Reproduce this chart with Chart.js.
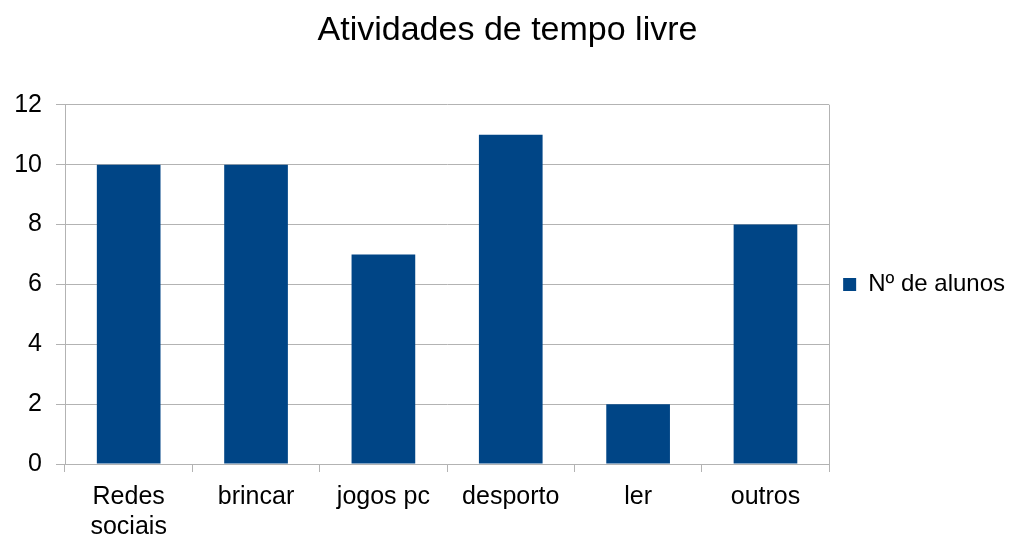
<!DOCTYPE html>
<html>
<head>
<meta charset="utf-8">
<script src="https://cdn.jsdelivr.net/npm/chart.js@4/dist/chart.umd.min.js"></script>
<style>
  html, body { margin: 0; padding: 0; background: #fff; }
  #wrap { width: 1022px; height: 535px; }
</style>
</head>
<body>
<div id="wrap"><canvas id="grafico"></canvas></div>
<script>
const atividades = [['Redes', 'sociais'], 'brincar', 'jogos pc', 'desporto', 'ler', 'outros'];
const alunos = [10, 10, 7, 11, 2, 8];
const nomeSerie = 'Nº de alunos';
const titulo = 'Atividades de tempo livre';

// linha cinzenta do lado direito da área do gráfico
const moldura = {
    id: 'moldura',
    beforeDatasetsDraw(chart) {
        const a = chart.chartArea;
        const ctx = chart.ctx;
        ctx.save();
        ctx.strokeStyle = '#b3b3b3';
        ctx.lineWidth = 1;
        ctx.beginPath();
        ctx.moveTo(Math.round(a.right) + 0.5, a.top);
        ctx.lineTo(Math.round(a.right) + 0.5, a.bottom);
        ctx.stroke();
        ctx.restore();
    }
};

const ctx = document.getElementById('grafico').getContext('2d');
new Chart(ctx, {
    type: 'bar',
    data: {
        labels: atividades,
        datasets: [{
            label: nomeSerie,
            data: alunos,
            backgroundColor: '#004586',
            borderWidth: 0,
            barPercentage: 0.5,
            categoryPercentage: 1
        }]
    },
    options: {
        responsive: true,
        maintainAspectRatio: false,
        animation: false,
        layout: { padding: { left: 0, right: 7, top: 0, bottom: 0 } },
        plugins: {
            title: {
                display: true,
                text: titulo,
                color: '#000',
                font: { family: 'Liberation Sans', size: 34, weight: 'normal' },
                padding: { top: 10, bottom: 54 }
            },
            legend: {
                position: 'right',
                fullSize: false,
                labels: {
                    color: '#000',
                    boxWidth: 13,
                    boxHeight: 13,
                    padding: 14,
                    font: { family: 'Liberation Sans', size: 24 }
                }
            },
            tooltip: { enabled: false }
        },
        scales: {
            x: {
                afterFit: function (scale) { scale.height = 71; },
                grid: {
                    display: true,
                    drawOnChartArea: false,
                    drawTicks: true,
                    tickLength: 8,
                    color: '#b3b3b3'
                },
                border: { display: true, color: '#b3b3b3' },
                ticks: {
                    color: '#000',
                    padding: 10,
                    maxRotation: 0,
                    autoSkip: false,
                    font: { family: 'Liberation Sans', size: 25 }
                }
            },
            y: {
                min: 0,
                max: 12,
                afterFit: function (scale) { scale.width = 65; },
                grid: {
                    color: '#b3b3b3',
                    tickLength: 9
                },
                border: { display: true, color: '#b3b3b3' },
                ticks: {
                    stepSize: 2,
                    color: '#000',
                    padding: 14,
                    font: { family: 'Liberation Sans', size: 25 }
                }
            }
        }
    },
    plugins: [moldura]
});
</script>
</body>
</html>
